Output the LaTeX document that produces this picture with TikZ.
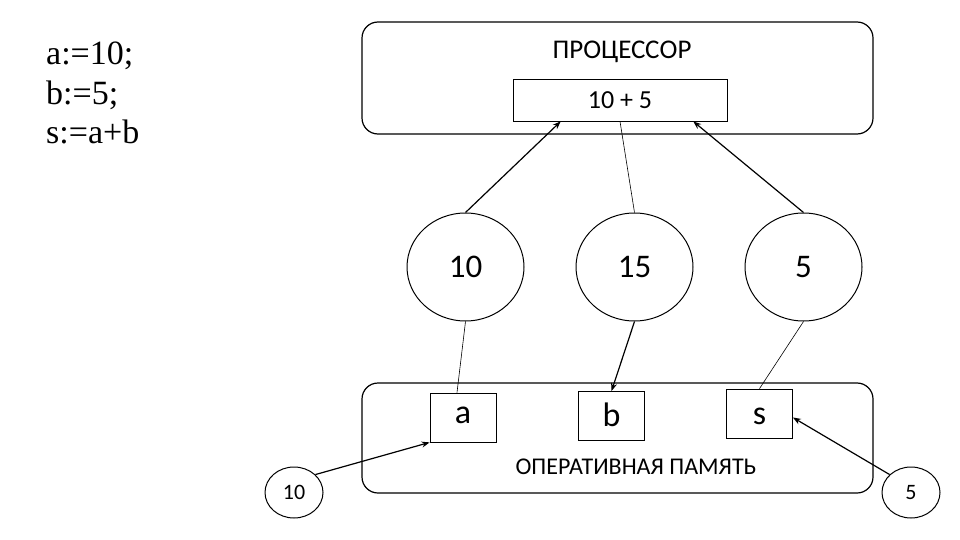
\documentclass[tikz,border=0pt]{standalone}
\usepackage{fontspec}
\setmainfont{Carlito}
\newfontfamily\codefont{Liberation Serif}
\usetikzlibrary{shapes.geometric,arrows.meta,calc}
\begin{document}
\begin{tikzpicture}[x=1pt,y=-1pt,
  bigbox/.style={draw, line width=1.2pt, rounded corners=16pt},
  cell/.style={draw, line width=0.8pt, minimum width=66pt, minimum height=49pt, inner sep=0pt, text height=21pt, text depth=0pt, font=\fontsize{34}{38}\selectfont},
  bigcirc/.style={draw, ellipse, line width=1pt, minimum width=117pt, minimum height=108pt, inner sep=0pt, font=\fontsize{33}{36}\selectfont},
  smallcirc/.style={draw, ellipse, line width=1pt, minimum width=58pt, minimum height=51pt, inner sep=0pt, font=\fontsize{22}{26}\selectfont},
  thinline/.style={line width=0.6pt},
  arrowline/.style={line width=1.2pt, -{Stealth[length=8pt,width=6pt]}},
  title/.style={font=\fontsize{27}{30}\selectfont, inner sep=0pt},
  code/.style={font=\codefont\fontsize{34}{38}\selectfont, anchor=base west, inner sep=0pt}
]
\useasboundingbox (0,0) rectangle (960,540);
% code
\node[code] (l1) at (46,65) {a:=10;};
\node[code] (l2) at (46,104.5) {b:=5;};
\node[code] (l3) at (46,144) {s:=a+b};
% processor
\node[bigbox, minimum width=511pt, minimum height=112pt, inner sep=0pt] (proc) at (617.5,78) {};
\node[title] (ptitle) at (622,52) {ПРОЦЕССОР};
\node[draw, line width=0.8pt, minimum width=214pt, minimum height=42pt, inner sep=0pt, font=\fontsize{26}{30}\selectfont] (alu) at (620,100) {10 + 5};
% circles
\node[bigcirc] (c10) at (465.5,267) {10};
\node[bigcirc] (c15) at (634.5,267) {15};
\node[bigcirc] (c5) at (803.5,267) {5};
% memory
\node[bigbox, minimum width=511pt, minimum height=110pt, inner sep=0pt] (mem) at (617.5,438) {};
\node[title, font=\fontsize{24}{28}\selectfont] (mtitle) at (636,467) {ОПЕРАТИВНАЯ ПАМЯТЬ};
\node[cell, text height=12pt] (a) at (463,417.5) {a};
\node[cell] (b) at (611.5,416) {b};
\node[cell] (s) at (759.5,413.5) {s};
% small circles
\node[smallcirc] (m10) at (294,492.5) {10};
\node[smallcirc] (m5) at (911,492.5) {5};
% connectors
\draw[arrowline] (c10.north) -- ($(alu.south west)!0.224!(alu.south east)$);
\draw[thinline] (c15.north) -- ($(alu.south west)!0.5!(alu.south east)$);
\draw[arrowline] (c5.north) -- ($(alu.south west)!0.841!(alu.south east)$);
\draw[thinline] (c10.south) -- ($(a.north west)!0.41!(a.north east)$);
\draw[arrowline] (c15.south) -- ($(b.north west)!0.5!(b.north east)$);
\draw[thinline] (c5.south) -- (s.north);
\draw[arrowline] (m10.40) -- (a.south west);
\draw[arrowline] (m5.140) -- ($(s.east)+(0,4)$);
\end{tikzpicture}
\end{document}
